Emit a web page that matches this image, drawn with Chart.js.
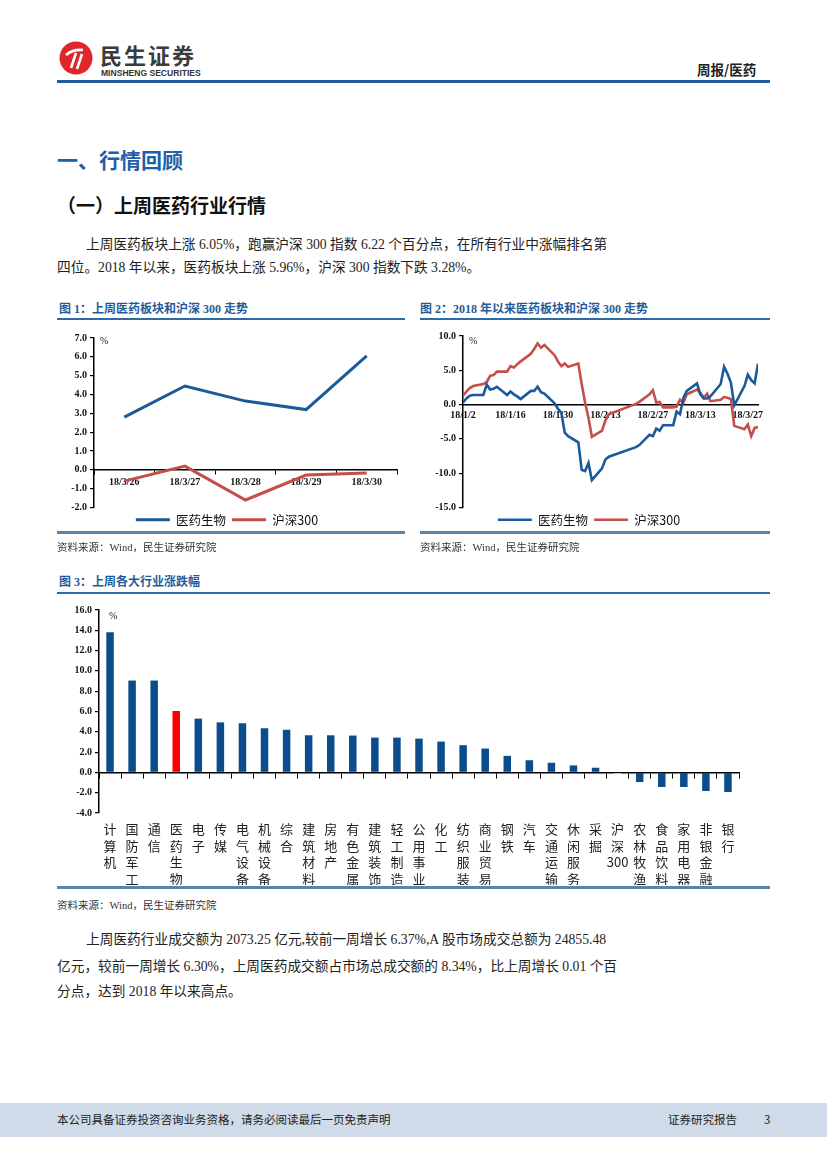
<!DOCTYPE html>
<html>
<head>
<meta charset="utf-8">
<script src="https://cdn.jsdelivr.net/npm/chart.js@4.4.1/dist/chart.umd.min.js"></script>
<style>
body { margin: 0; background: #fff; }
#page { position: relative; width: 827px; height: 1169px; overflow: hidden; background: #fff;
        font-family: "Liberation Serif", "Noto Sans CJK SC", serif; color: #222; }
.t { position: absolute; white-space: nowrap; line-height: 1; }
.rule { position: absolute; }
.box { position: absolute; }
.figtitle { font-weight: bold; font-size: 12px; color: #1f5c99; }
.src { font-size: 10.5px; color: #333; }
.para { font-size: 13.7px; color: #222; }
.pct { font-size: 10px; color: #222; }
</style>
</head>
<body>
<div id="page">
  <!-- header -->
  <svg class="box" style="left:59px;top:41px" width="34" height="34" viewBox="0 0 34 34">
    <circle cx="17" cy="17" r="16.5" fill="#e1262b"/>
    <path d="M7 14 Q14 8 24 9" stroke="#fff" stroke-width="2.6" fill="none"/>
    <path d="M12 27 L17 12" stroke="#fff" stroke-width="2.6" fill="none"/>
    <path d="M18 28 L23 13" stroke="#fff" stroke-width="2.6" fill="none"/>
  </svg>
  <div class="t" style="left:100px;top:43px;font-size:22px;font-weight:bold;color:#3b3b3b;font-family:'Noto Sans CJK SC';letter-spacing:2px">民生证券</div>
  <div class="t" style="left:101px;top:68px;font-size:9.5px;font-weight:bold;color:#333;font-family:'Liberation Sans';transform:scaleX(0.9);transform-origin:left">MINSHENG SECURITIES</div>
  <div class="t" style="left:697px;top:63px;font-size:13.5px;font-weight:bold;font-family:'Noto Sans CJK SC'">周报/医药</div>
  <div class="rule" style="left:57px;top:80px;width:713px;height:2.5px;background:#1e5c9a"></div>

  <div class="t" style="left:57px;top:149px;font-size:21px;font-weight:bold;color:#1f5ea8;font-family:'Noto Sans CJK SC'">一、行情回顾</div>
  <div class="t" style="left:57px;top:195px;font-size:19px;font-weight:bold;color:#111;font-family:'Noto Sans CJK SC'">（一）上周医药行业行情</div>
  <div class="t para" style="left:86px;top:238px">上周医药板块上涨 6.05%，跑赢沪深 300 指数 6.22 个百分点，在所有行业中涨幅排名第</div>
  <div class="t para" style="left:57px;top:261px">四位。2018 年以来，医药板块上涨 5.96%，沪深 300 指数下跌 3.28%。</div>

  <!-- figure 1 -->
  <div class="t figtitle" style="left:59px;top:303px">图 1：上周医药板块和沪深 300 走势</div>
  <div class="rule" style="left:57px;top:318px;width:348px;height:2px;background:#2e6aa6"></div>
  <div class="box" style="left:57px;top:326px;width:348px;height:210px"><canvas id="weekChart"></canvas></div>
  <div class="t pct" style="left:100px;top:336px">%</div>
  <div class="rule" style="left:57px;top:531px;width:348px;height:2.5px;background:#5a85ab"></div>
  <div class="t src" style="left:57px;top:543px">资料来源：Wind，民生证券研究院</div>

  <!-- figure 2 -->
  <div class="t figtitle" style="left:420px;top:303px">图 2：2018 年以来医药板块和沪深 300 走势</div>
  <div class="rule" style="left:420px;top:318px;width:350px;height:2px;background:#2e6aa6"></div>
  <div class="box" style="left:420px;top:326px;width:350px;height:210px"><canvas id="ytdChart"></canvas></div>
  <div class="t pct" style="left:469px;top:336px">%</div>
  <div class="rule" style="left:420px;top:531px;width:350px;height:2.5px;background:#5a85ab"></div>
  <div class="t src" style="left:420px;top:543px">资料来源：Wind，民生证券研究院</div>

  <!-- figure 3 -->
  <div class="t figtitle" style="left:59px;top:576px">图 3：上周各大行业涨跌幅</div>
  <div class="rule" style="left:57px;top:592px;width:713px;height:2px;background:#2e6aa6"></div>
  <div class="box" style="left:57px;top:600px;width:690px;height:285px"><canvas id="industryChart"></canvas></div>
  <div class="t pct" style="left:109px;top:611px">%</div>
  <div class="rule" style="left:57px;top:886px;width:713px;height:2.5px;background:#5a85ab"></div>
  <div class="t src" style="left:57px;top:901px">资料来源：Wind，民生证券研究院</div>

  <div class="t para" style="left:86px;top:933px">上周医药行业成交额为 2073.25 亿元,较前一周增长 6.37%,A 股市场成交总额为 24855.48</div>
  <div class="t para" style="left:57px;top:960px">亿元，较前一周增长 6.30%，上周医药成交额占市场总成交额的 8.34%，比上周增长 0.01 个百</div>
  <div class="t para" style="left:57px;top:985px">分点，达到 2018 年以来高点。</div>

  <!-- footer -->
  <div class="rule" style="left:0;top:1103px;width:827px;height:34px;background:#cfdbe8"></div>
  <div class="t" style="left:57px;top:1114px;font-size:11.5px;font-family:'Noto Sans CJK SC';color:#222">本公司具备证券投资咨询业务资格，请务必阅读最后一页免责声明</div>
  <div class="t" style="left:668px;top:1114px;font-size:11.5px;font-family:'Noto Sans CJK SC';color:#222">证券研究报告</div>
  <div class="t" style="left:764px;top:1114px;font-size:11.5px;font-family:'Noto Sans CJK SC';color:#222">3</div>
</div>

<script>
Chart.defaults.font.family = '"Liberation Serif", "Noto Sans CJK SC", serif';
Chart.defaults.color = '#111';
Chart.defaults.animation = false;

const BLUE = '#1b5a9a';
const RED = '#c44e4a';
const BAR_BLUE = '#0b4d8c';

// Figure 1: last week
const weekDays = ['18/3/26', '18/3/27', '18/3/28', '18/3/29', '18/3/30'];
const weekMed = [2.8, 4.45, 3.65, 3.2, 6.05];
const weekHs300 = [-0.6, 0.2, -1.6, -0.28, -0.17];

// Figure 2: since 2018 (trading days)
const ytdDates = [
    '2018-01-02', '2018-01-03', '2018-01-04', '2018-01-05', '2018-01-08', '2018-01-09', '2018-01-10',
    '2018-01-11', '2018-01-12', '2018-01-15', '2018-01-16', '2018-01-17', '2018-01-18', '2018-01-19',
    '2018-01-22', '2018-01-23', '2018-01-24', '2018-01-25', '2018-01-26', '2018-01-29', '2018-01-30',
    '2018-01-31', '2018-02-01', '2018-02-02', '2018-02-05', '2018-02-06', '2018-02-07', '2018-02-08',
    '2018-02-09', '2018-02-12', '2018-02-13', '2018-02-14', '2018-02-22', '2018-02-23', '2018-02-26',
    '2018-02-27', '2018-02-28', '2018-03-01', '2018-03-02', '2018-03-05', '2018-03-06', '2018-03-07',
    '2018-03-08', '2018-03-09', '2018-03-12', '2018-03-13', '2018-03-14', '2018-03-15', '2018-03-16',
    '2018-03-19', '2018-03-20', '2018-03-21', '2018-03-22', '2018-03-23', '2018-03-26', '2018-03-27',
    '2018-03-28', '2018-03-29', '2018-03-30'
];
const ytdMed = [
    0.3, 0.9, 1.3, 1.4, 1.4, 2.9, 2.2, 2.3, 2.6, 1.4, 1.9, 1.5, 1.2, 0.8, 2.0, 2.0, 2.6, 1.8, 1.6, 0.2, -0.6, -1.2,
    -4.1, -4.6, -5.5, -9.5, -9.7, -8.5, -11.0, -9.3, -8.0, -7.6, -6.2, -5.9, -4.4, -4.6, -3.5,
    -3.8, -3.0, -3.0, -1.0, -1.4, 1.0, 2.0, 3.1, 1.5, 0.9, 0.9, 1.2, 3.0, 5.5, 4.5, 3.2, -0.1, 2.7, 4.35, 3.55, 3.1, 5.96
];
const ytdHs300 = [
    1.3, 1.9, 2.4, 2.7, 3.0, 3.3, 4.2, 4.3, 4.8, 4.8, 5.6, 5.4, 5.9, 6.3, 7.4, 8.1, 8.9, 8.3, 8.7, 7.2, 6.3, 5.6,
    6.0, 5.5, 6.0, 3.0, 0.3, -1.9, -4.7, -3.8, -2.3, -1.4, 0.1, 0.4, 1.5, 2.1, 0.3,
    0.4, -0.4, -0.4, -0.3, 0.7, 0.3, 1.5, 2.2, 1.7, 1.0, 1.6, 0.5, 0.7, 1.1, 1.0, 0.8, -3.1, -3.6, -2.9, -4.6, -3.4, -3.28
];

// Figure 3: industries last week
const industries = ['计算机', '国防军工', '通信', '医药生物', '电子', '传媒', '电气设备', '机械设备', '综合',
    '建筑材料', '房地产', '有色金属', '建筑装饰', '轻工制造', '公用事业', '化工', '纺织服装', '商业贸易',
    '钢铁', '汽车', '交通运输', '休闲服务', '采掘', '沪深300', '农林牧渔', '食品饮料', '家用电器', '非银金融', '银行'];
const industryChg = [13.8, 9.05, 9.05, 6.05, 5.3, 4.93, 4.84, 4.35, 4.2, 3.66, 3.66, 3.63, 3.43, 3.43, 3.33,
    3.04, 2.68, 2.35, 1.63, 1.2, 0.95, 0.69, 0.46, -0.17, -0.95, -1.44, -1.44, -1.83, -1.93];

const tickFont = { size: 10, weight: 'bold' };
const legendFont = { size: 12.5, family: '"Noto Sans CJK SC"' };

function yAxis(min, max, step, width) {
    return {
        min: min, max: max,
        border: { color: '#000', width: 1.5 },
        grid: { drawOnChartArea: false, color: '#000', tickLength: 4, lineWidth: 1.2 },
        ticks: { stepSize: step, font: tickFont, padding: 3, callback: v => v.toFixed(1) },
        afterFit: s => { s.width = width; }
    };
}

const legendOpts = {
    display: true,
    position: 'bottom',
    labels: { usePointStyle: true, pointStyleWidth: 34, boxHeight: 10, padding: 6, font: legendFont, color: '#111' }
};

// Figure 1
new Chart(document.querySelector('#weekChart'), {
    type: 'line',
    data: {
        labels: weekDays,
        datasets: [
            { label: '医药生物', data: weekMed, borderColor: BLUE, backgroundColor: BLUE, borderWidth: 3, pointRadius: 0, pointStyle: 'line', tension: 0 },
            { label: '沪深300', data: weekHs300, borderColor: RED, backgroundColor: RED, borderWidth: 3, pointRadius: 0, pointStyle: 'line', tension: 0 }
        ]
    },
    options: {
        responsive: true,
        maintainAspectRatio: false,
        layout: { padding: { top: 12, right: 8, bottom: 0, left: 0 } },
        scales: {
            x: {
                position: { y: 0 },
                offset: true,
                border: { color: '#000', width: 1.5 },
                grid: { offset: true, drawOnChartArea: false, color: '#000', tickLength: 4 },
                ticks: { font: tickFont, padding: 3, maxRotation: 0 }
            },
            y: yAxis(-2, 7, 1, 37)
        },
        plugins: { legend: legendOpts, tooltip: { enabled: false } }
    }
});

// Figure 2
const day0 = Date.parse(ytdDates[0]);
const dayIndex = d => Math.round((Date.parse(d) - day0) / 86400000);
const dayLabel = v => {
    const dt = new Date(day0 + v * 86400000);
    return '18/' + (dt.getUTCMonth() + 1) + '/' + dt.getUTCDate();
};
const lastDay = dayIndex(ytdDates[ytdDates.length - 1]);

new Chart(document.querySelector('#ytdChart'), {
    type: 'line',
    data: {
        datasets: [
            { label: '医药生物', data: ytdDates.map((d, i) => ({ x: dayIndex(d), y: ytdMed[i] })),
              borderColor: BLUE, backgroundColor: BLUE, borderWidth: 2.6, pointRadius: 0, pointStyle: 'line', tension: 0 },
            { label: '沪深300', data: ytdDates.map((d, i) => ({ x: dayIndex(d), y: ytdHs300[i] })),
              borderColor: RED, backgroundColor: RED, borderWidth: 2.6, pointRadius: 0, pointStyle: 'line', tension: 0 }
        ]
    },
    options: {
        responsive: true,
        maintainAspectRatio: false,
        layout: { padding: { top: 10, right: 12, bottom: 0, left: 0 } },
        scales: {
            x: {
                type: 'linear',
                position: { y: 0 },
                min: 0, max: lastDay,
                border: { color: '#000', width: 1.5 },
                grid: { drawOnChartArea: false, drawTicks: false },
                ticks: { stepSize: 14, includeBounds: false, font: tickFont, padding: 5, maxRotation: 0, callback: dayLabel }
            },
            y: yAxis(-15, 10, 5, 43)
        },
        plugins: { legend: legendOpts, tooltip: { enabled: false } }
    }
});

// Figure 3
new Chart(document.querySelector('#industryChart'), {
    type: 'bar',
    data: {
        labels: industries.map(n => n === '沪深300' ? ['沪', '深', '300'] : n.split('')),
        datasets: [{
            data: industryChg,
            backgroundColor: industries.map(n => n === '医药生物' ? '#ff0000' : (n === '沪深300' ? '#f2e400' : BAR_BLUE)),
            barPercentage: 0.34,
            categoryPercentage: 1
        }]
    },
    options: {
        responsive: true,
        maintainAspectRatio: false,
        layout: { padding: { top: 10, right: 8, bottom: 0, left: 0 } },
        scales: {
            x: {
                position: 'bottom',
                border: { display: false },
                grid: { display: false, drawTicks: false },
                ticks: { autoSkip: false, maxRotation: 0, padding: 8, color: '#222',
                         font: { size: 13, family: '"Noto Sans CJK SC"', lineHeight: 1.27 } },
                afterFit: s => { s.height = 72; }
            },
            zero: {
                type: 'category',
                axis: 'x',
                position: { y: 0 },
                offset: true,
                border: { color: '#000', width: 1.5 },
                grid: { offset: true, drawOnChartArea: false, color: '#000', tickLength: 5 },
                ticks: { callback: () => '', padding: 0 }
            },
            y: yAxis(-4, 16, 2, 42)
        },
        plugins: { legend: { display: false }, tooltip: { enabled: false } }
    }
});
</script>
</body>
</html>
